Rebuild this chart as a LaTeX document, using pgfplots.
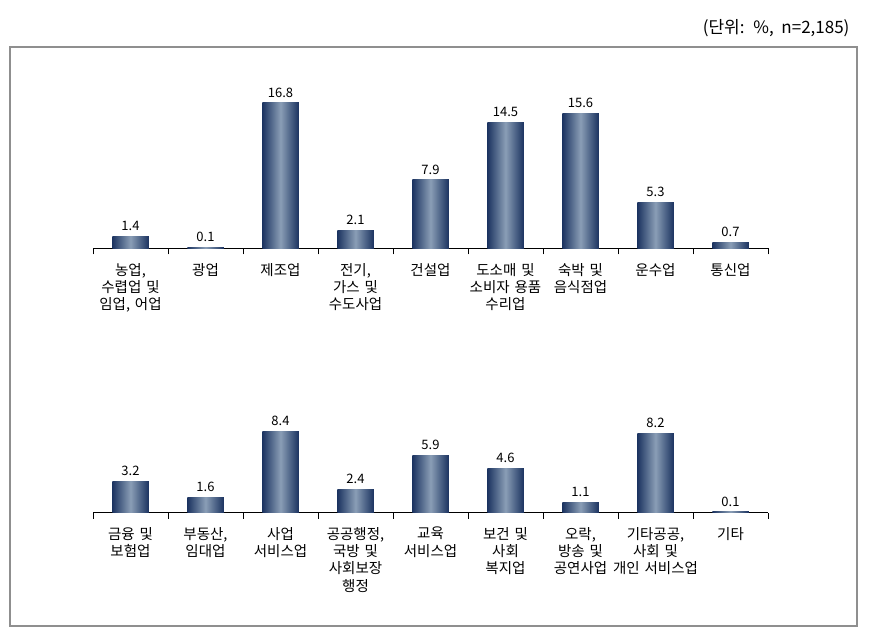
\documentclass[border=0pt]{standalone}
\usepackage{pgfplots}
\pgfplotsset{compat=1.18}
\usepackage{fontspec}
\setmainfont{Noto Sans CJK KR}
\definecolor{barDark}{HTML}{1B3360}
\definecolor{barLight}{HTML}{8A9EB6}
\definecolor{frameGray}{HTML}{8F8F8F}
\pgfplotsset{
  rowstyle/.style={
    scale only axis,
    width=675bp,
    xmin=-0.5, xmax=8.5,
    ymin=0,
    axis x line=bottom,
    axis y line=none,
    axis line style={-, black, line width=0.9bp},
    xtick={0,...,8},
    major tick length=0pt,
    minor xtick={-0.5,0.5,...,8.5},
    minor tick length=6bp,
    tick align=inside,
    minor tick style={black, line width=0.9bp},
    xticklabel style={font=\fontsize{14.5bp}{17.3bp}\selectfont, align=center, text width=100bp, anchor=north, yshift=-11bp},
    ybar, bar width=36.5bp, bar shift=0pt,
    nodes near coords={\pgfmathprintnumber[fixed,fixed zerofill,precision=1,assume math mode=true]{\pgfplotspointmeta}},
    every node near coord/.append style={font=\fontsize{13bp}{15bp}\selectfont, black, yshift=2bp},
    clip=false,
  },
  barS/.style={draw=none, left color=barDark, right color=barDark, middle color=barLight}
}
\begin{document}
\begin{tikzpicture}
\useasboundingbox (0,0) rectangle (869bp,640bp);
\draw[frameGray, line width=1.5bp] (10bp,593bp) rectangle (857bp,14bp);
\node[anchor=east, font=\fontsize{17bp}{19bp}\selectfont] at (853bp,612bp) {(단위:~ \%,~ n=2,185)};
\begin{axis}[rowstyle, at={(93bp,391.5bp)}, anchor=south west, ymax=18, height=156.2bp,
  xticklabels={{농업,\\수렵업 및\\임업, 어업},{광업},{제조업},{전기,\\가스 및\\수도사업},{건설업},{도소매 및\\소비자 용품\\수리업},{숙박 및\\음식점업},{운수업},{통신업}}]
\addplot[barS] coordinates {(0,1.4)};
\addplot[barS] coordinates {(1,0.1)};
\addplot[barS] coordinates {(2,16.8)};
\addplot[barS] coordinates {(3,2.1)};
\addplot[barS] coordinates {(4,7.9)};
\addplot[barS] coordinates {(5,14.5)};
\addplot[barS] coordinates {(6,15.6)};
\addplot[barS] coordinates {(7,5.3)};
\addplot[barS] coordinates {(8,0.7)};
\end{axis}
\begin{axis}[rowstyle, at={(93bp,127.3bp)}, anchor=south west, ymax=10, height=97bp,
  xticklabels={{금융 및\\보험업},{부동산,\\임대업},{사업\\서비스업},{공공행정,\\국방 및\\사회보장\\행정},{교육\\서비스업},{보건 및\\사회\\복지업},{오락,\\방송 및\\공연사업},{기타공공,\\사회 및\\개인 서비스업},{기타}}]
\addplot[barS] coordinates {(0,3.2)};
\addplot[barS] coordinates {(1,1.6)};
\addplot[barS] coordinates {(2,8.4)};
\addplot[barS] coordinates {(3,2.4)};
\addplot[barS] coordinates {(4,5.9)};
\addplot[barS] coordinates {(5,4.6)};
\addplot[barS] coordinates {(6,1.1)};
\addplot[barS] coordinates {(7,8.2)};
\addplot[barS] coordinates {(8,0.1)};
\end{axis}
\end{tikzpicture}
\end{document}
